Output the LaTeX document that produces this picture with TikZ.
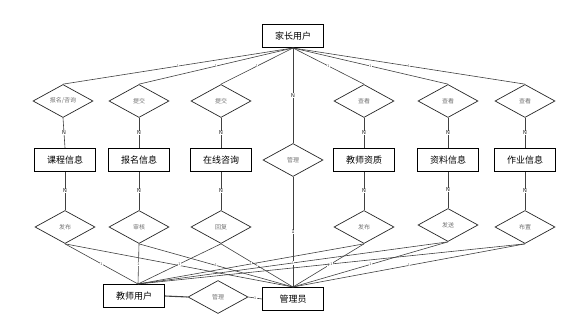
\documentclass[tikz,border=0pt]{standalone}
\usepackage{fontspec}
\newfontfamily\cjk{Noto Sans CJK SC}
\usetikzlibrary{shapes.geometric}
\begin{document}
\begin{tikzpicture}[x=1pt,y=-1pt,
  entity/.style={draw=black,line width=1pt,minimum width=61pt,minimum height=23pt,inner sep=1pt,font=\cjk\fontsize{9}{10}\selectfont},
  rel/.style={diamond,draw=black!85,line width=0.7pt,minimum width=60pt,minimum height=33pt,inner sep=0pt,text=black!55,font=\cjk\fontsize{6}{7}\selectfont},
  conn/.style={draw=black!75,line width=0.6pt},
  lab/.style={fill=white,inner sep=0.4pt,font=\fontsize{5.5}{6}\selectfont\sffamily,text=black!90},
  slab/.style={fill=white,inner sep=0.3pt,font=\fontsize{4}{5}\selectfont\sffamily,text=black!70}]
\useasboundingbox (0,0) rectangle (580,326);
% top entity
\node[entity] (parent) at (293,36) {家长用户};
% row 1 relations
\node[rel] (r1) at (63,101) {报名/咨询};
\node[rel] (r2) at (139,101) {提交};
\node[rel] (r3) at (221,101) {提交};
\node[rel] (r4) at (364,101) {查看};
\node[rel] (r5) at (448,101) {查看};
\node[rel] (r6) at (525,101) {查看};
% middle relation
\node[rel] (rm) at (293,160) {管理};
% row 2 entities
\node[entity] (e1) at (65,160) {课程信息};
\node[entity] (e2) at (139,160) {报名信息};
\node[entity] (e3) at (221,160) {在线咨询};
\node[entity] (e4) at (364,160) {教师资质};
\node[entity] (e5) at (448,160) {资料信息};
\node[entity] (e6) at (525,160) {作业信息};
% row 3 relations
\node[rel] (s1) at (65,227) {发布};
\node[rel] (s2) at (139,227) {审核};
\node[rel] (s3) at (221,227) {回复};
\node[rel] (s4) at (364,227) {发布};
\node[rel] (s5) at (448,225) {发送};
\node[rel] (s6) at (525,227) {布置};
% bottom
\node[entity] (teacher) at (134,296) {教师用户};
\node[entity] (admin) at (293,299) {管理员};
\node[rel] (rb) at (218,297) {管理};
% connectors from parent
\foreach \r in {r1,r2,r3,r4,r5,r6}
  \draw[conn] (parent.south) -- node[slab]{1} (\r.north);
\draw[conn] (parent.south) -- node[lab,pos=0.5]{N} (rm.north);
\draw[conn] (rm.south) -- node[lab,pos=0.5]{1} (admin.north);
% row1 to row2
\foreach \r/\e in {r1/e1,r2/e2,r3/e3,r4/e4,r5/e5,r6/e6}
  \draw[conn] (\r.south) -- node[lab]{N} (\e.north);
% row2 to row3
\foreach \e/\s in {e1/s1,e2/s2,e3/s3,e4/s4,e5/s5,e6/s6}
  \draw[conn] (\e.south) -- node[lab]{N} (\s.north);
% row3 to teacher/admin
\foreach \s in {s1,s2,s3,s4,s5,s6}{
  \draw[conn] (\s.south) -- node[slab]{1} ([xshift=4pt]teacher.north);
  \draw[conn] (\s.south) -- node[slab]{1} (admin.north);
}
% bottom relation
\draw[conn,line width=1.1pt] (teacher.east) -- (rb.west);
\draw[conn] (rb.east) -- node[slab]{1} (admin.west);
\end{tikzpicture}
\end{document}
